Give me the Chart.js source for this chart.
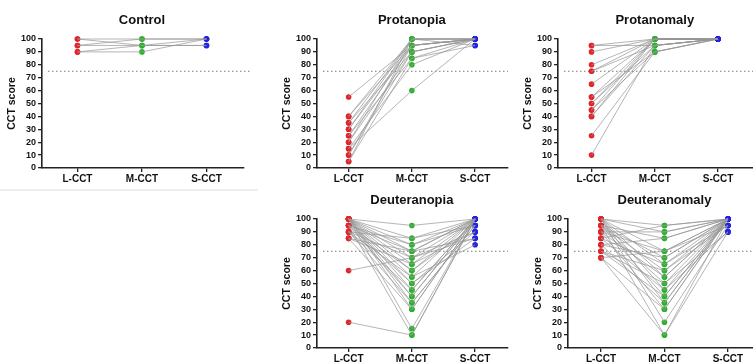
<!DOCTYPE html>
<html>
<head>
<meta charset="utf-8">
<script src="https://cdn.jsdelivr.net/npm/chart.js@4.4.1/dist/chart.umd.min.js"></script>
<style>
html, body { margin: 0; padding: 0; background: #fff; overflow: hidden; width: 753px; height: 363px; position: relative; }
canvas { position: absolute; }
#ctrlFrame { position: absolute; left: 0; top: 189px; width: 258px; height: 2px; background: #ededed; }
</style>
</head>
<body>
<div id="ctrlFrame"></div>
<canvas id="control"></canvas>
<canvas id="protanopia"></canvas>
<canvas id="protanomaly"></canvas>
<canvas id="deuteranopia"></canvas>
<canvas id="deuteranomaly"></canvas>
<script>
// categories and ticks
const categories = ['L-CCT', 'M-CCT', 'S-CCT'];
const yTicks = [0, 10, 20, 30, 40, 50, 60, 70, 80, 90, 100];
const threshold = 75;

// one entry per subject: L, M, S scores
const controlL = [100, 100, 95, 95, 90, 90];
const controlM = [100, 95, 100, 95, 95, 90];
const controlS = [100, 95, 100, 100, 95, 100];

const protanopiaL = [55, 40, 40, 35, 35, 30, 30, 25, 25, 20, 20, 15, 15, 10, 10, 5, 5];
const protanopiaM = [95, 100, 95, 100, 90, 100, 95, 95, 85, 90, 100, 80, 60, 95, 90, 100, 85];
const protanopiaS = [100, 100, 100, 100, 100, 100, 100, 100, 100, 100, 95, 100, 100, 100, 100, 100, 95];

const protanomalyL = [95, 95, 90, 80, 75, 75, 65, 55, 55, 50, 50, 45, 45, 40, 40, 25, 10];
const protanomalyM = [100, 95, 100, 100, 100, 95, 100, 100, 90, 95, 100, 90, 100, 95, 100, 90, 95];
const protanomalyS = [100, 100, 100, 100, 100, 100, 100, 100, 100, 100, 100, 100, 100, 100, 100, 100, 100];

const deuteranopiaL = [100, 100, 100, 100, 100, 100, 100, 100, 100, 100, 100, 100, 100, 100, 95, 95, 95, 95, 95, 95, 90, 90, 90, 90, 90, 85, 85, 85, 60, 20];
const deuteranopiaM = [95, 85, 80, 75, 70, 65, 60, 55, 50, 45, 40, 35, 30, 15, 80, 75, 60, 50, 40, 10, 85, 70, 55, 45, 35, 75, 65, 30, 70, 10];
const deuteranopiaS = [100, 100, 95, 100, 90, 100, 95, 100, 85, 100, 100, 95, 100, 100, 100, 85, 100, 90, 100, 100, 95, 100, 80, 100, 95, 100, 90, 100, 85, 100];

const deuteranomalyL = [100, 100, 100, 100, 100, 100, 100, 100, 95, 95, 95, 95, 95, 95, 90, 90, 90, 90, 85, 85, 85, 80, 80, 80, 75, 75, 75, 70, 70, 70];
const deuteranomalyM = [95, 90, 75, 65, 55, 45, 35, 20, 85, 70, 60, 50, 40, 10, 90, 75, 55, 30, 95, 65, 45, 85, 70, 35, 60, 50, 40, 75, 30, 10];
const deuteranomalyS = [100, 100, 100, 95, 100, 100, 100, 95, 100, 100, 100, 90, 100, 100, 100, 95, 100, 100, 100, 100, 90, 100, 100, 100, 95, 100, 100, 100, 100, 90];

const dotColors = ['#e3242b', '#2bb32b', '#2323e0'];
const FONT = '"Liberation Sans", Arial, sans-serif';
Chart.defaults.font.family = FONT;

// dotted 75 line and panel title
const panelDecor = {
    id: 'panelDecor',
    beforeDatasetsDraw(chart, args, opts) {
        const { ctx, chartArea, scales } = chart;
        const y = scales.y.getPixelForValue(threshold);
        ctx.save();
        ctx.setLineDash([1.5, 2.5]);
        ctx.strokeStyle = '#777';
        ctx.lineWidth = 1.2;
        ctx.beginPath();
        ctx.moveTo(chartArea.left + 6, y);
        ctx.lineTo(chartArea.right + (opts.extend || 0), y);
        ctx.stroke();
        ctx.restore();
    },
    afterDraw(chart, args, opts) {
        const { ctx, scales } = chart;
        ctx.save();
        ctx.font = 'bold 13px ' + FONT;
        ctx.fillStyle = '#111';
        ctx.textAlign = 'center';
        ctx.textBaseline = 'middle';
        ctx.fillText(opts.title, scales.x.getPixelForValue(1), 20);
        ctx.restore();
    }
};

const panels = [
    { id: 'control', title: 'Control', L: controlL, M: controlM, S: controlS, axisX: 42, top: 0, xMin: -0.55, xMax: 2.58, extend: 7 },
    { id: 'protanopia', title: 'Protanopia', L: protanopiaL, M: protanopiaM, S: protanopiaS, axisX: 317, top: 0, xMin: -0.5, xMax: 2.52, extend: 0 },
    { id: 'protanomaly', title: 'Protanomaly', L: protanomalyL, M: protanomalyM, S: protanomalyS, axisX: 558, top: 0, xMin: -0.53, xMax: 2.6, extend: 0 },
    { id: 'deuteranopia', title: 'Deuteranopia', L: deuteranopiaL, M: deuteranopiaM, S: deuteranopiaS, axisX: 317, top: 180, xMin: -0.5, xMax: 2.52, extend: 0 },
    { id: 'deuteranomaly', title: 'Deuteranomaly', L: deuteranomalyL, M: deuteranomalyM, S: deuteranomalyS, axisX: 568, top: 180, xMin: -0.52, xMax: 2.6, extend: 0 }
];

function makePanel(p) {
    const axisW = 42, unit = 64.5, plotTop = 39, plotH = 129, xAxisH = 18;
    const plotW = (p.xMax - p.xMin) * unit;
    const canvas = document.getElementById(p.id);
    const w = Math.ceil(axisW + plotW + p.extend);
    const h = plotTop + plotH + xAxisH;
    canvas.width = w;
    canvas.height = h;
    canvas.style.width = w + 'px';
    canvas.style.height = h + 'px';
    canvas.style.left = (p.axisX - axisW) + 'px';
    canvas.style.top = p.top + 'px';

    const lines = p.L.map((l, i) => ({
        data: [{ x: 0, y: l }, { x: 1, y: p.M[i] }, { x: 2, y: p.S[i] }],
        borderColor: 'rgba(150,150,150,0.7)',
        borderWidth: 1,
        pointRadius: 0,
        clip: false
    }));

    const pts = [];
    const cols = [];
    [p.L, p.M, p.S].forEach((arr, k) => arr.forEach(v => {
        pts.push({ x: k, y: v });
        cols.push(dotColors[k]);
    }));

    new Chart(canvas.getContext('2d'), {
        type: 'line',
        data: {
            datasets: lines.concat([{
                data: pts,
                showLine: false,
                pointRadius: 2.8,
                pointBorderWidth: 0,
                pointBackgroundColor: cols,
                clip: false
            }])
        },
        options: {
            responsive: false,
            animation: false,
            devicePixelRatio: 1,
            layout: { padding: { top: plotTop, left: 0, bottom: 0, right: w - axisW - plotW } },
            plugins: {
                legend: { display: false },
                tooltip: { enabled: false },
                panelDecor: { title: p.title, extend: p.extend }
            },
            scales: {
                x: {
                    type: 'linear',
                    min: p.xMin,
                    max: p.xMax,
                    afterBuildTicks: s => { s.ticks = categories.map((c, i) => ({ value: i })); },
                    afterFit: s => { s.height = xAxisH; },
                    ticks: {
                        callback: v => categories[v],
                        font: { family: FONT, size: 10, weight: 'bold' },
                        color: '#111',
                        padding: 1,
                        maxRotation: 0,
                        autoSkip: false
                    },
                    grid: { drawOnChartArea: false, drawTicks: true, tickLength: 4, color: '#222', lineWidth: 1.3 },
                    border: { display: true, color: '#222', width: 1.6 }
                },
                y: {
                    min: 0,
                    max: 100,
                    afterBuildTicks: s => { s.ticks = yTicks.map(v => ({ value: v })); },
                    afterFit: s => { s.width = axisW; },
                    ticks: { font: { family: FONT, size: 9, weight: 'bold' }, color: '#111', padding: 2, autoSkip: false },
                    grid: { drawOnChartArea: false, drawTicks: true, tickLength: 4, color: '#222', lineWidth: 1.3 },
                    border: { display: true, color: '#222', width: 1.6 },
                    title: {
                        display: true,
                        text: 'CCT score',
                        font: { family: FONT, size: 10.5, weight: 'bold' },
                        color: '#111',
                        padding: { top: 6, bottom: 0 }
                    }
                }
            }
        },
        plugins: [panelDecor]
    });
}

panels.forEach(makePanel);
</script>
</body>
</html>
